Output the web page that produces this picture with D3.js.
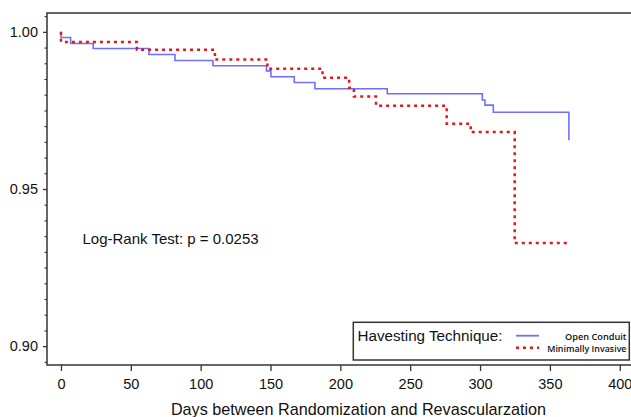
<!DOCTYPE html>
<html><head><meta charset="utf-8">
<script src="https://cdn.jsdelivr.net/npm/d3@7"></script>
<style>html,body{margin:0;padding:0;background:#fff;overflow:hidden}</style>
</head><body>
<svg id="c" width="631" height="417"></svg>
<script>
const blueTimes = [0, 0, 6.9, 23.1, 63, 81.6, 108.8, 147.1, 150.3, 167, 181.8, 233.6, 301.6, 303.5, 309.5, 363.6];
const blueSurv  = [1.0, 0.9982, 0.9963, 0.9947, 0.9928, 0.9909, 0.9892, 0.9876, 0.9857, 0.9839, 0.9819, 0.9803, 0.9783, 0.9767, 0.9744, 0.9655];
const redTimes  = [0, 0, 54.4, 110.2, 147.8, 187.2, 206.3, 209.7, 225.5, 276.1, 293.3, 324.8, 363.1];
const redSurv   = [1.0, 0.9968, 0.9943, 0.9912, 0.9883, 0.9854, 0.9822, 0.9794, 0.9765, 0.9708, 0.9681, 0.9328, 0.9328];
const xTicks = [0, 50, 100, 150, 200, 250, 300, 350, 400];
const yTicks = [0.90, 0.95, 1.00];
const yMinor = d3.range(0, 23).map(i => +(0.895 + i * 0.005).toFixed(3));
const seriesNames = ["Open Conduit", "Minimally Invasive"];
const legendTitle = "Havesting Technique:";
const xTitle = "Days between Randomization and Revascularzation";
const note = "Log-Rank Test: p = 0.0253";

const svg = d3.select("#c");
const x = d3.scaleLinear().domain([-10, 417]).range([47, 643.5]);
const y = d3.scaleLinear().domain([0.894, 1.006]).range([365, 13]);
const axisCol = "#333";
const font = "'Liberation Sans', Arial, sans-serif";

// frame
svg.append("rect").attr("x", x(-10)).attr("y", y(1.006))
  .attr("width", x(417) - x(-10)).attr("height", y(0.894) - y(1.006))
  .attr("fill", "none").attr("stroke", axisCol).attr("stroke-width", 1.5);

// y axis
const yMaj = d3.axisLeft(y).tickValues(yTicks).tickFormat(d3.format(".2f")).tickSize(4).tickPadding(5);
const gy = svg.append("g").attr("transform", `translate(${x(-10)},0)`).call(yMaj);
gy.select(".domain").remove();
gy.selectAll("line").attr("stroke", axisCol).attr("stroke-width", 1.3);
gy.selectAll("text").attr("font-family", font).attr("font-size", 14.5).attr("fill", "#111");
const gym = svg.append("g").attr("transform", `translate(${x(-10)},0)`)
  .call(d3.axisLeft(y).tickValues(yMinor.filter(v => v > 0.894 && v < 1.006 && Math.abs(v*100 - Math.round(v*20)*5) > 1e-6)).tickSize(2.5).tickFormat(""));
gym.select(".domain").remove();
gym.selectAll("line").attr("stroke", axisCol).attr("stroke-width", 1.1);

// x axis
const gx = svg.append("g").attr("transform", `translate(0,${y(0.894)})`)
  .call(d3.axisBottom(x).tickValues(xTicks).tickSize(6).tickPadding(8));
gx.select(".domain").remove();
gx.selectAll("line").attr("stroke", axisCol).attr("stroke-width", 1.3);
gx.selectAll("text").attr("font-family", font).attr("font-size", 14.5).attr("fill", "#111");

svg.append("text").attr("x", 358.5).attr("y", 414.5).attr("text-anchor", "middle")
  .attr("font-family", font).attr("font-size", 16.2).attr("fill", "#111").text(xTitle);

// curves
const line = d3.line().x(d => x(d[0])).y(d => y(d[1])).curve(d3.curveStepAfter);
const blue = blueTimes.map((t, i) => [t, blueSurv[i]]);
const red = redTimes.map((t, i) => [t, redSurv[i]]);
const blueCol = "#6f6fff", redCol = "#e3161c";
svg.append("path").datum(blue).attr("d", line).attr("fill", "none")
  .attr("stroke", blueCol).attr("stroke-width", 1.6);
svg.append("path").datum(red).attr("d", line).attr("fill", "none")
  .attr("stroke", redCol).attr("stroke-width", 2.5).attr("stroke-dasharray", "3,4");

// note
svg.append("text").attr("x", 82.5).attr("y", 244).attr("font-family", font)
  .attr("font-size", 15).attr("fill", "#111").text(note);

// legend
svg.append("rect").attr("x", 353.3).attr("y", 322.3).attr("width", 276).attr("height", 37.7)
  .attr("fill", "#fff").attr("stroke", axisCol).attr("stroke-width", 1.5);
svg.append("text").attr("x", 357.5).attr("y", 341).attr("font-family", font)
  .attr("font-size", 15.2).attr("fill", "#111").text(legendTitle);
svg.append("line").attr("x1", 516).attr("x2", 539).attr("y1", 335.7).attr("y2", 335.7)
  .attr("stroke", blueCol).attr("stroke-width", 1.8);
svg.append("line").attr("x1", 516).attr("x2", 539).attr("y1", 347.7).attr("y2", 347.7)
  .attr("stroke", redCol).attr("stroke-width", 2.5).attr("stroke-dasharray", "3,4");
svg.append("text").attr("x", 626.5).attr("y", 340).attr("text-anchor", "end")
  .attr("font-family", "'Open Sans', sans-serif").attr("font-weight", 600)
  .attr("font-size", 9.2).attr("fill", "#111").text(seriesNames[0]);
svg.append("text").attr("x", 626.5).attr("y", 352).attr("text-anchor", "end")
  .attr("font-family", "'Open Sans', sans-serif").attr("font-weight", 600)
  .attr("font-size", 8.9).attr("fill", "#111").text(seriesNames[1]);
</script>
</body></html>
